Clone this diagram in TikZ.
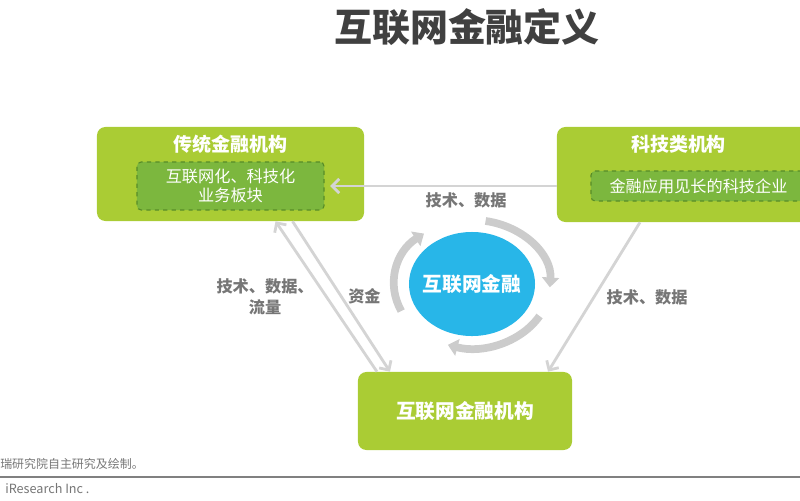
\documentclass[tikz,border=0pt]{standalone}
\usepackage{fontspec}
\setmainfont{Noto Sans CJK SC}
\usetikzlibrary{arrows.meta,positioning,shapes.geometric}
\definecolor{orggreen}  {RGB}{170,204, 52}
\definecolor{unitgreen} {RGB}{124,183, 62}
\definecolor{dashgreen} {RGB}{ 88,140, 40}
\definecolor{coreblue}  {RGB}{ 40,182,232}
\definecolor{flowgray}  {RGB}{212,212,212}
\definecolor{ringgray}  {RGB}{204,204,204}
\definecolor{labelgray} {RGB}{118,118,118}
\definecolor{titlegray} {RGB}{ 64, 64, 64}

\begin{document}
\begin{tikzpicture}[
    x=0.025cm, y=-0.025cm,
    org/.style={rectangle, rounded corners=6pt, fill=orggreen, inner sep=0pt},
    orgname/.style={text=white, inner sep=0pt, font=\bfseries\fontsize{13.5}{16}\selectfont},
    unit/.style={rectangle, rounded corners=3pt, draw=dashgreen, dashed, thick, fill=unitgreen, text=white, align=center, inner sep=0pt, font=\fontsize{11.5}{14}\selectfont},
    flow/.style={-{Straight Barb[length=5pt,width=10pt]}, draw=flowgray, line width=2pt},
    ringarrow/.style={-{Triangle[length=7pt,width=12pt]}, draw=ringgray, line width=5.5pt},
    flowlabel/.style={text=labelgray, align=center, inner sep=0pt, font=\bfseries\fontsize{11.5}{15}\selectfont}
]
    \useasboundingbox (0,0) rectangle (800,500);
    \node[text=titlegray, font=\bfseries\fontsize{27}{30}\selectfont] (title) at (467,27) {互联网金融定义};

    \node[org, minimum width=6.675cm, minimum height=2.35cm] (trad) at (230.5,174) {};
    \node[orgname, below=0.2cm of trad.north] (tradname) {传统金融机构};
    \node[unit, minimum width=4.675cm, minimum height=1.2cm] (digital) at (230.5,186) {互联网化、科技化\\业务板块};

    \node[org, minimum width=6.375cm, minimum height=2.375cm] (tech) at (684.5,174.5) {};
    \node[orgname, below=0.2cm of tech.north, xshift=-0.15cm] (techname) {科技类机构};
    \node[unit, minimum width=5.375cm, minimum height=0.75cm] (fintech) at (698.5,186) {金融应用见长的科技企业};

    \node[org, minimum width=5.35cm, minimum height=1.95cm, text=white, font=\bfseries\fontsize{14}{16}\selectfont] (inet) at (465,411) {互联网金融机构};

    \node[ellipse, fill=coreblue, inner sep=0pt, minimum width=3.15cm, minimum height=2.6cm] (core) at (472,284) {};
    \node[text=white, font=\bfseries\fontsize{14}{16}\selectfont] (corename) at (core) {互联网金融};
    \draw[ringarrow] (core.center) ++(-205:78 and 64) arc[start angle=-205, end angle=-128, x radius=78, y radius=64];
    \draw[ringarrow] (core.center) ++(-80:78 and 64) arc[start angle=-80, end angle=3, x radius=78, y radius=64];
    \draw[ringarrow] (core.center) ++(30:78 and 64) arc[start angle=30, end angle=108, x radius=78, y radius=64];

    \draw[flow] (tech.west |- digital.east) -- node[flowlabel, below=4pt, pos=0.4] {技术、数据} ([xshift=4pt]digital.east);
    \draw[flow] ([xshift=-2.2cm]inet.north) -- node[flowlabel, left=8pt] {技术、数据、\\流量} ([xshift=1.125cm]trad.south);
    \draw[flow] ([xshift=1.55cm]trad.south) -- node[flowlabel, right=4pt] {资金} ([xshift=-1.875cm]inet.north);
    \draw[flow] ([xshift=-1.1125cm]tech.south) -- node[flowlabel, right=8pt] {技术、数据} ([xshift=2.075cm]inet.north);

    % footer
    \node[anchor=west, text=labelgray, inner sep=0pt, font=\fontsize{8.5}{10}\selectfont] (source) at (0,464) {瑞研究院自主研究及绘制。};
    \coordinate (ruleleft) at (0,477);
    \coordinate (ruleright) at (800,477);
    \draw[gray, line width=1pt] (ruleleft) -- (ruleright);
    \node[anchor=west, text=labelgray, inner sep=0pt, font=\fontsize{9}{10}\selectfont] (brand) at (5,489) {iResearch Inc .};
\end{tikzpicture}
\end{document}
